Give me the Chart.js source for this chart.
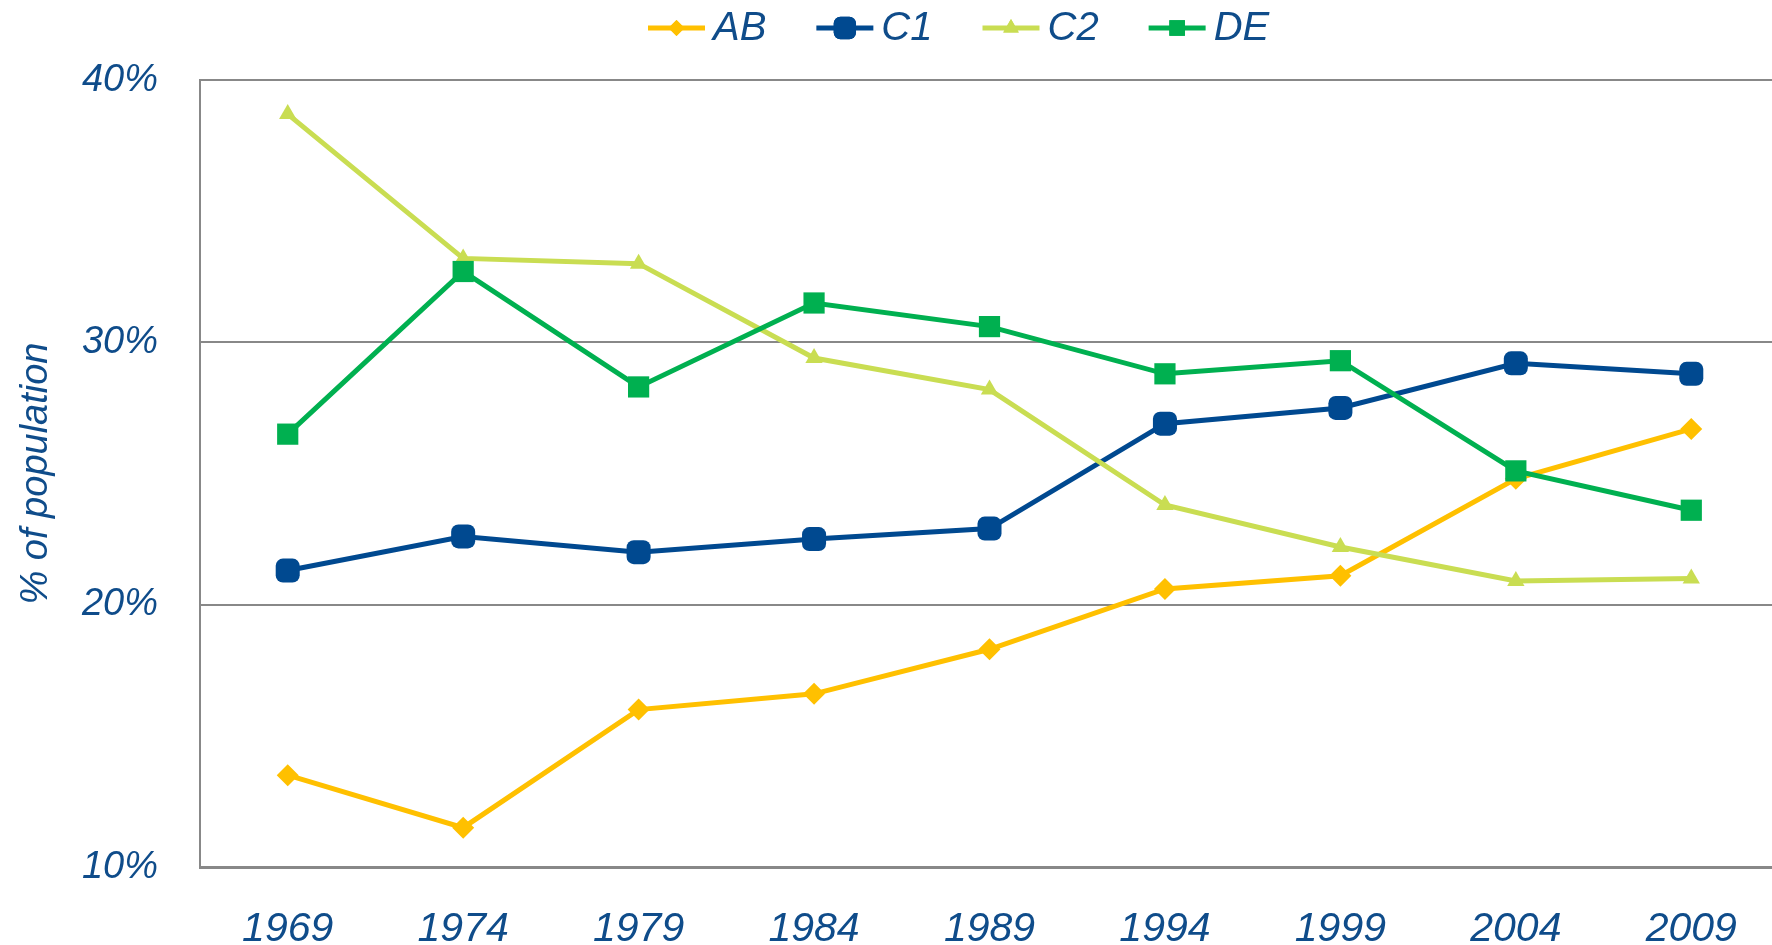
<!DOCTYPE html>
<html>
<head>
<meta charset="utf-8">
<script src="https://cdn.jsdelivr.net/npm/chart.js@4.4.0/dist/chart.umd.min.js"></script>
<style>
  html, body { margin: 0; padding: 0; background: #fff; overflow: hidden; }
  #wrap { width: 1779px; height: 945px; position: relative; }
</style>
</head>
<body>
<div id="wrap"><canvas id="grafico"></canvas></div>
<script>
// --- datos ---
const years = ['1969', '1974', '1979', '1984', '1989', '1994', '1999', '2004', '2009'];
const seriesNames = ['AB', 'C1', 'C2', 'DE'];
const valuesAB = [13.5, 11.5, 16.0, 16.6, 18.3, 20.6, 21.1, 24.8, 26.7];
const valuesC1 = [21.3, 22.6, 22.0, 22.5, 22.9, 26.9, 27.5, 29.2, 28.8];
const valuesC2 = [38.7, 33.2, 33.0, 29.4, 28.2, 23.8, 22.2, 20.9, 21.0];
const valuesDE = [26.5, 32.7, 28.3, 31.5, 30.6, 28.8, 29.3, 25.1, 23.6];
const yTicks = [10, 20, 30, 40];

const colores = ['#FFC000', '#004990', '#C9DD52', '#00B050'];
const estilos = ['rectRot', 'rectRounded', 'triangle', 'rect'];
const radios = [11, 14, 10, 15];
const radiosLeyenda = [8, 13, 9, 11];
const azul = '#0f4c8a';
const gris = '#888888';
const fuente = '"Liberation Sans", Arial, sans-serif';

const allValues = [valuesAB, valuesC1, valuesC2, valuesDE];

// leyenda dibujada a mano: línea + marcador + texto
const leyenda = {
  id: 'leyenda',
  afterDraw(chart) {
    const ctx = chart.ctx;
    ctx.save();
    ctx.font = 'italic 40px ' + fuente;
    const lineLen = 57, gapTxt = 8, gapItem = 50;
    const anchos = seriesNames.map(n => ctx.measureText(n).width);
    let x = 648;
    const y = 28;
    chart.data.datasets.forEach((ds, i) => {
      ctx.strokeStyle = ds.borderColor;
      ctx.lineWidth = 5;
      ctx.beginPath();
      ctx.moveTo(x, y);
      ctx.lineTo(x + lineLen, y);
      ctx.stroke();
      ctx.fillStyle = ds.borderColor;
      Chart.helpers.drawPoint(ctx, { pointStyle: ds.pointStyle, radius: radiosLeyenda[i], borderWidth: 0 }, x + lineLen / 2, y);
      ctx.fill();
      ctx.fillStyle = azul;
      ctx.textBaseline = 'middle';
      ctx.textAlign = 'left';
      ctx.fillText(seriesNames[i], x + lineLen + gapTxt, y + 1);
      x += lineLen + gapTxt + anchos[i] + gapItem;
    });
    ctx.restore();
  }
};

new Chart(document.getElementById('grafico').getContext('2d'), {
  type: 'line',
  data: {
    labels: years,
    datasets: seriesNames.map((n, i) => ({
      label: n,
      data: allValues[i],
      borderColor: colores[i],
      backgroundColor: colores[i],
      borderWidth: 5,
      pointStyle: estilos[i],
      pointRadius: radios[i],
      pointHoverRadius: radios[i],
      pointBorderWidth: 0,
      tension: 0,
      order: seriesNames.length - i
    }))
  },
  options: {
    responsive: true,
    maintainAspectRatio: false,
    animation: false,
    layout: { autoPadding: false, padding: { top: 80, right: 0, left: 0, bottom: 0 } },
    plugins: { legend: { display: false }, tooltip: { enabled: false } },
    scales: {
      x: {
        offset: true,
        grid: { display: false, drawTicks: false },
        border: { display: true, color: gris, width: 3 },
        ticks: {
          color: azul, padding: 38,
          font: { family: fuente, size: 41, style: 'italic' }
        },
        afterFit(scale) {
          scale.height = 78;
          scale.paddingLeft = 0;
          scale.paddingRight = 0;
        }
      },
      y: {
        min: 10, max: 40,
        afterBuildTicks(scale) { scale.ticks = yTicks.map(v => ({ value: v })); },
        grid: { color: gris, lineWidth: 2, drawTicks: false },
        border: { display: true, color: gris, width: 2 },
        ticks: {
          color: azul, padding: 42,
          font: { family: fuente, size: 38, style: 'italic' },
          callback: v => v + '%'
        },
        title: {
          display: true, text: '% of population', color: azul,
          padding: { top: 14, bottom: 0 },
          font: { family: fuente, size: 38, style: 'italic' }
        },
        afterFit(scale) {
          scale.width = 200;
          scale.paddingTop = 0;
          scale.paddingBottom = 0;
        }
      }
    }
  },
  plugins: [leyenda]
});
</script>
</body>
</html>
